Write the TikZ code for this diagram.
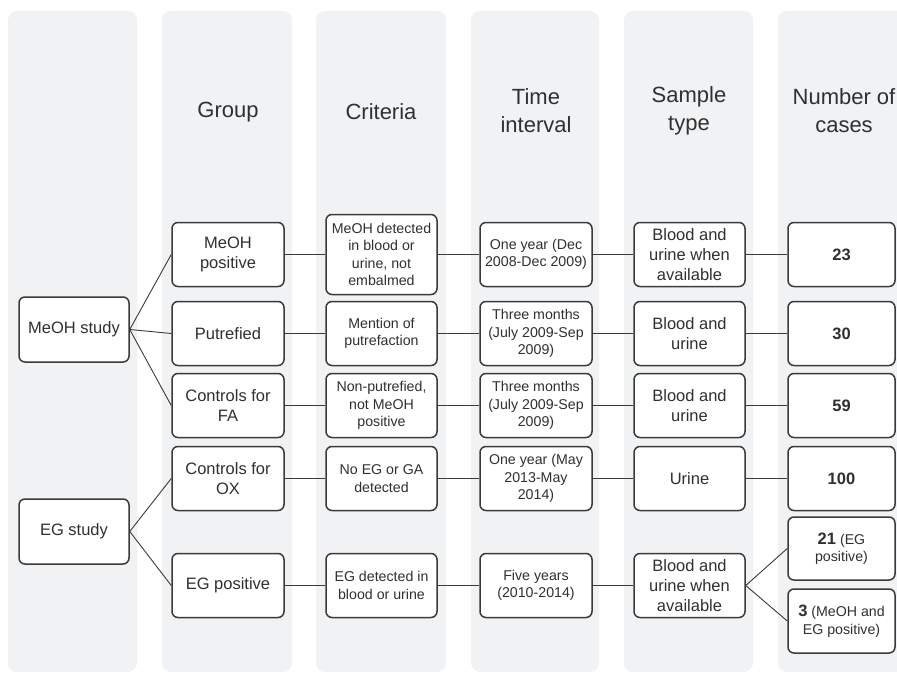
\documentclass[tikz,border=0pt]{standalone}
\usepackage{fontspec}
\setmainfont{Liberation Sans}
\usepackage{xcolor}
\usetikzlibrary{positioning}
\definecolor{PanelGray}{RGB}{241,242,244}
\definecolor{BoxLine}{RGB}{58,58,58}
\definecolor{TextGray}{RGB}{48,48,48}
\tikzset{
	panel/.style={fill=PanelGray, rounded corners=9pt},
	header/.style={text=TextGray, align=center, font=\fontsize{22}{28}\selectfont},
	box/.style={
		draw=BoxLine, line width=1.5pt, rounded corners=6pt, fill=white,
		text=TextGray, align=center, inner sep=0pt,
		minimum width=111pt, minimum height=64pt
	},
	bigtext/.style={font=\fontsize{16.5}{20}\selectfont},
	smalltext/.style={font=\fontsize{14.2}{17.5}\selectfont},
	link/.style={BoxLine, line width=0.9pt},
}

\begin{document}
\begin{tikzpicture}[x=1pt, y=-1pt]

	\useasboundingbox (0,0) rectangle (897,674);

	% Column panels
	\fill[panel] (8,11) rectangle (137,672);
	\fill[panel] (162,11) rectangle (292,672);
	\fill[panel] (316,11) rectangle (446,672);
	\fill[panel] (471,11) rectangle (599,672);
	\fill[panel] (624,11) rectangle (753,672);
	\fill[panel] (778,11) rectangle (915,672);

	% Column headers
	\node[header] (hgroup) at (228,112) {Group};
	\node[header] (hcrit) at (381,112) {Criteria};
	\node[header] (htime) at (536,111) {Time\\interval};
	\node[header] (hsample) at (689,111) {Sample\\type};
	\node[header] (hnumber) at (844,111) {Number of\\cases};

	% Studies
	\node[box, bigtext, minimum width=110pt, minimum height=65pt] (meoh) at (74,329.5) {MeOH study};
	\node[box, bigtext, minimum width=110pt, minimum height=65pt] (eg) at (74,531.5) {EG study};

	% Group
	\node[box, bigtext, minimum width=112pt] (g1) at (228,254.5) {MeOH\\positive};
	\node[box, bigtext, minimum width=112pt] (g2) at (228,333.5) {Putrefied};
	\node[box, bigtext, minimum width=112pt] (g3) at (228,405.5) {Controls for\\FA};
	\node[box, bigtext, minimum width=112pt] (g4) at (228,478.5) {Controls for\\OX};
	\node[box, bigtext, minimum width=112pt] (g5) at (228,585.5) {EG positive};

	% Criteria
	\node[box, smalltext, minimum height=80pt] (c1) at (381.5,254.5) {MeOH detected\\in blood or\\urine, not\\embalmed};
	\node[box, smalltext] (c2) at (381.5,333.5) {Mention of\\putrefaction};
	\node[box, smalltext] (c3) at (381.5,405.5) {Non-putrefied,\\not MeOH\\positive};
	\node[box, smalltext] (c4) at (381.5,478.5) {No EG or GA\\detected};
	\node[box, smalltext] (c5) at (381.5,585.5) {EG detected in\\blood or urine};

	% Time interval
	\node[box, smalltext, minimum width=112pt] (t1) at (536,254.5) {One year (Dec\\2008-Dec 2009)};
	\node[box, smalltext, minimum width=112pt] (t2) at (536,333.5) {Three months\\(July 2009-Sep\\2009)};
	\node[box, smalltext, minimum width=112pt] (t3) at (536,405.5) {Three months\\(July 2009-Sep\\2009)};
	\node[box, smalltext, minimum width=112pt] (t4) at (536,478.5) {One year (May\\2013-May\\2014)};
	\node[box, smalltext, minimum width=112pt] (t5) at (536,585.5) {Five years\\(2010-2014)};

	% Sample type
	\node[box, bigtext] (s1) at (689.5,254.5) {Blood and\\urine when\\available};
	\node[box, bigtext] (s2) at (689.5,333.5) {Blood and\\urine};
	\node[box, bigtext] (s3) at (689.5,405.5) {Blood and\\urine};
	\node[box, bigtext] (s4) at (689.5,478.5) {Urine};
	\node[box, bigtext] (s5) at (689.5,585.5) {Blood and\\urine when\\available};

	% Number of cases
	\node[box, bigtext, minimum width=107pt] (n1) at (841.5,254.5) {\textbf{23}};
	\node[box, bigtext, minimum width=107pt] (n2) at (841.5,333.5) {\textbf{30}};
	\node[box, bigtext, minimum width=107pt] (n3) at (841.5,405.5) {\textbf{59}};
	\node[box, bigtext, minimum width=107pt] (n4) at (841.5,478.5) {\textbf{100}};
	\node[box, smalltext, minimum width=107pt, minimum height=63pt] (n5a) at (841.5,548.5) {{\fontsize{16.5}{17.5}\selectfont\textbf{21}} (EG\\positive)};
	\node[box, smalltext, minimum width=107pt] (n5b) at (841.5,621) {{\fontsize{16.5}{17.5}\selectfont\textbf{3}} (MeOH and\\EG positive)};

	% Study branches
	\draw[link] (meoh.east) -- (g1.west);
	\draw[link] (meoh.east) -- (g2.west);
	\draw[link] (meoh.east) -- (g3.west);
	\draw[link] (eg.east) -- (g4.west);
	\draw[link] (eg.east) -- (g5.west);

	% Rows
	\draw[link] (g1) -- (c1) -- (t1) -- (s1) -- (n1);
	\draw[link] (g2) -- (c2) -- (t2) -- (s2) -- (n2);
	\draw[link] (g3) -- (c3) -- (t3) -- (s3) -- (n3);
	\draw[link] (g4) -- (c4) -- (t4) -- (s4) -- (n4);
	\draw[link] (g5) -- (c5) -- (t5) -- (s5);

	% Split of EG positive cases
	\draw[link] (s5.east) -- (n5a.west);
	\draw[link] (s5.east) -- (n5b.west);

\end{tikzpicture}
\end{document}
